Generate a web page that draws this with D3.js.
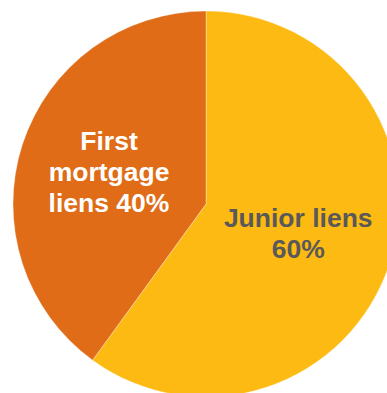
<!DOCTYPE html>
<html>
<head>
<meta charset="utf-8">
<script src="https://cdn.jsdelivr.net/npm/d3@7"></script>
<style>
  body { margin: 0; background: #fff; }
  svg { display: block; }
</style>
</head>
<body>
<script>
// chart data
var categories = ["Junior liens", "First mortgage liens"];
var values = [60, 40];
var labelLines = [["Junior liens", "60%"], ["First", "mortgage", "liens 40%"]];
var colors = ["#FDBA12", "#E06C17"];
var textColors = ["#595959", "#ffffff"];

var width = 387, height = 393;
var cx = 206, cy = 204, radius = 193;

var svg = d3.select("body").append("svg").attr("width", width).attr("height", height);

var g = svg.append("g").attr("transform", "translate(" + cx + "," + cy + ")");

// pie starts at 12 o'clock and runs clockwise, no sorting
var pie = d3.pie().sort(null).value(function (d) { return d; });
var arc = d3.arc().innerRadius(0).outerRadius(radius);
// label distance from the centre, per slice
var labelRadius = [97, 102];

var slices = pie(values);

g.selectAll("path")
  .data(slices)
  .enter()
  .append("path")
  .attr("d", arc)
  .attr("fill", function (d, i) { return colors[i]; })
  .attr("stroke", "#ffffff")
  .attr("stroke-opacity", 0.35)
  .attr("stroke-width", 1);

// labels, several lines each
var lineH = 31;
slices.forEach(function (d, i) {
  var c = d3.arc().innerRadius(labelRadius[i]).outerRadius(labelRadius[i]).centroid(d);
  var lines = labelLines[i];
  var t = g.append("text")
    .attr("text-anchor", "middle")
    .attr("font-family", "Liberation Sans, Arial, sans-serif")
    .attr("font-weight", "bold")
    .attr("font-size", 26.5)
    .attr("fill", textColors[i]);
  lines.forEach(function (s, j) {
    t.append("tspan")
      .attr("x", c[0])
      .attr("y", c[1] + (j - (lines.length - 1) / 2) * lineH + 9)
      .text(s);
  });
});
</script>
</body>
</html>
